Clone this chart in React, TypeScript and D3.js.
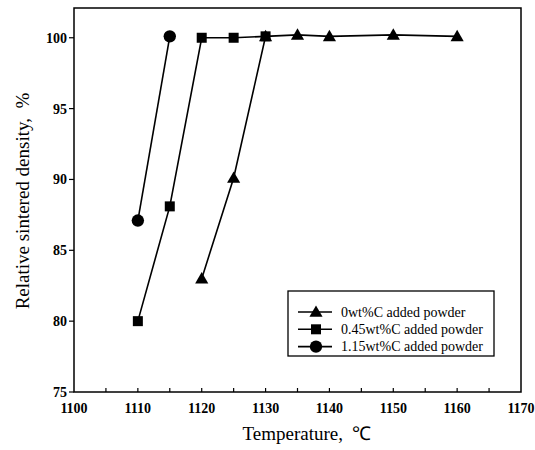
import React from "react";
import * as d3 from "d3";

// temperatures (°C) and relative sintered density (%)
const temp0 = [1120, 1125, 1130, 1135, 1140, 1150, 1160];
const dens0 = [83, 90.1, 100.1, 100.2, 100.1, 100.2, 100.1];
const temp045 = [1110, 1115, 1120, 1125, 1130];
const dens045 = [80, 88.1, 100, 100, 100.1];
const temp115 = [1110, 1115];
const dens115 = [87.1, 100.1];

const xTicks = [1100, 1110, 1120, 1130, 1140, 1150, 1160, 1170];
const yTicks = [75, 80, 85, 90, 95, 100];
const seriesNames = ["0wt%C added powder", "0.45wt%C added powder", "1.15wt%C added powder"];
const markerTypes = ["triangle", "square", "circle"];

const W = 535;
const H = 450;
const margin = { top: 8, right: 14, bottom: 58, left: 74 };
const serif = { fontFamily: "Liberation Serif", whiteSpace: "pre" as const };

function Marker({ type, x, y }: { type: string; x: number; y: number }) {
  if (type === "circle") return <circle cx={x} cy={y} r={6.2} fill="#000" />;
  if (type === "square") return <rect x={x - 5} y={y - 5} width={10} height={10} fill="#000" />;
  const tri = d3.symbol(d3.symbolTriangle, 75)()!;
  return <path d={tri} transform={`translate(${x},${y + 1})`} fill="#000" />;
}

export default function App() {
  const x = d3.scaleLinear().domain([1100, 1170]).range([margin.left, W - margin.right]);
  const y = d3.scaleLinear().domain([75, 102.1]).range([H - margin.bottom, margin.top]);
  const line = d3
    .line<[number, number]>()
    .x((d) => x(d[0]))
    .y((d) => y(d[1]));

  const series = [
    { t: temp0, d: dens0 },
    { t: temp045, d: dens045 },
    { t: temp115, d: dens115 },
  ].map((s, i) => ({
    pts: s.t.map((t, j) => [t, s.d[j]] as [number, number]),
    type: markerTypes[i],
    name: seriesNames[i],
  }));

  const x0 = x(1100);
  const x1 = x(1170);
  const y0 = y(75);
  const yTop = margin.top;
  const minorX = d3.range(1105, 1170, 5);

  const lg = { x: 288, y: 291, w: 206, h: 65 };

  return (
    <svg width={W} height={H} style={{ position: "absolute", left: 0, top: 0, background: "#fff" }}>
      {/* frame */}
      <rect x={x0} y={yTop} width={x1 - x0} height={y0 - yTop} fill="none" stroke="#000" strokeWidth={1.5} />

      {/* x ticks (inward) */}
      {minorX.map((t) => (
        <line key={t} x1={x(t)} x2={x(t)} y1={y0} y2={y0 - 4} stroke="#000" strokeWidth={1.2} />
      ))}
      {xTicks.map((t) => (
        <text key={t} x={x(t)} y={y0 + 21} textAnchor="middle" fontSize={14} fontWeight="bold" style={serif}>
          {t}
        </text>
      ))}

      {/* y ticks (outward) */}
      {yTicks.map((t) => (
        <g key={t}>
          <line x1={x0} x2={x0 - 5} y1={y(t)} y2={y(t)} stroke="#000" strokeWidth={1.2} />
          <text x={x0 - 7} y={y(t) + 5} textAnchor="end" fontSize={14} fontWeight="bold" style={serif}>
            {t}
          </text>
        </g>
      ))}

      {/* axis titles */}
      <text x={307} y={440} textAnchor="middle" fontSize={19} style={serif}>
        {"Temperature,  ℃"}
      </text>
      <text transform={`translate(29,201) rotate(-90)`} textAnchor="middle" fontSize={19} style={serif}>
        {"Relative sintered density,  %"}
      </text>

      {/* series */}
      {series.map((s) => (
        <g key={s.name}>
          <path d={line(s.pts)!} fill="none" stroke="#000" strokeWidth={1.6} />
          {s.pts.map((p, j) => (
            <Marker key={j} type={s.type} x={x(p[0])} y={y(p[1])} />
          ))}
        </g>
      ))}

      {/* legend */}
      <rect x={lg.x} y={lg.y} width={lg.w} height={lg.h} fill="#fff" stroke="#000" strokeWidth={1.3} />
      {series.map((s, i) => {
        const ly = lg.y + 21 + i * 17.3;
        return (
          <g key={s.name}>
            <line x1={lg.x + 10} x2={lg.x + 44} y1={ly} y2={ly} stroke="#000" strokeWidth={1.6} />
            <Marker type={s.type} x={lg.x + 28} y={ly} />
            <text x={lg.x + 53} y={ly + 4.5} fontSize={14} style={serif}>
              {s.name}
            </text>
          </g>
        );
      })}
    </svg>
  );
}
